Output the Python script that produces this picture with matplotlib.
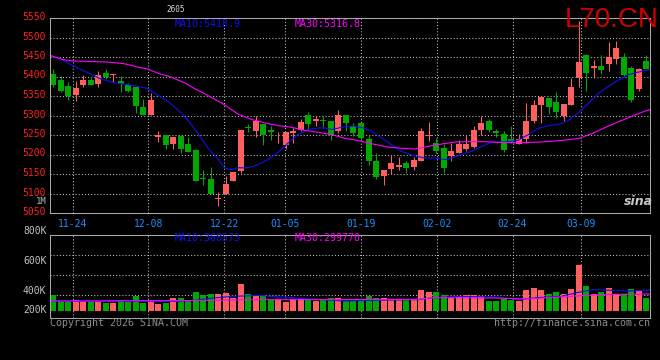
import numpy as np
import matplotlib.pyplot as plt
from matplotlib.transforms import ScaledTranslation

plt.rcParams['font.family'] = 'DejaVu Sans Mono'

# daily candles, oldest first
opens = [5407, 5391, 5376, 5353, 5379, 5390, 5382, 5410, 5404, 5389,
         5377, 5373, 5321, 5302, 5245, 5250, 5228, 5247, 5226, 5211,
         5140, 5138, 5087, 5100, 5131, 5157, 5271, 5260, 5277, 5262,
         5254, 5224, 5256, 5264, 5300, 5287, 5288, 5285, 5260, 5300,
         5274, 5280, 5240, 5183, 5144, 5164, 5169, 5177, 5168, 5183,
         5247, 5230, 5217, 5196, 5204, 5213, 5219, 5262, 5287, 5260,
         5253, 5241, 5226, 5241, 5287, 5328, 5344, 5335, 5298, 5328,
         5395, 5454, 5422, 5428, 5433, 5446, 5451, 5422, 5367, 5441]
highs = [5419, 5402, 5385, 5389, 5404, 5402, 5414, 5419, 5407, 5402,
         5383, 5373, 5343, 5357, 5259, 5250, 5246, 5247, 5245, 5215,
         5161, 5167, 5104, 5146, 5156, 5264, 5279, 5298, 5277, 5272,
         5258, 5257, 5268, 5290, 5310, 5300, 5300, 5285, 5315, 5300,
         5281, 5281, 5251, 5204, 5161, 5200, 5194, 5184, 5194, 5267,
         5283, 5243, 5226, 5230, 5238, 5251, 5274, 5298, 5291, 5266,
         5260, 5272, 5252, 5333, 5339, 5351, 5344, 5361, 5330, 5395,
         5542, 5458, 5443, 5456, 5489, 5492, 5460, 5426, 5422, 5454]
lows = [5374, 5361, 5341, 5336, 5372, 5377, 5374, 5394, 5385, 5359,
        5359, 5307, 5302, 5302, 5232, 5213, 5213, 5205, 5206, 5132,
        5123, 5100, 5069, 5100, 5131, 5153, 5257, 5245, 5224, 5238,
        5230, 5213, 5230, 5260, 5264, 5273, 5268, 5238, 5256, 5260,
        5247, 5238, 5174, 5136, 5123, 5150, 5159, 5153, 5160, 5183,
        5234, 5204, 5153, 5183, 5204, 5208, 5217, 5251, 5257, 5245,
        5207, 5230, 5226, 5230, 5281, 5281, 5304, 5294, 5286, 5327,
        5373, 5364, 5397, 5407, 5415, 5431, 5401, 5335, 5362, 5420]
closes = [5379, 5363, 5351, 5370, 5390, 5377, 5404, 5400, 5407, 5381,
          5363, 5325, 5302, 5339, 5250, 5224, 5246, 5213, 5206, 5132,
          5137, 5100, 5089, 5125, 5156, 5264, 5268, 5287, 5251, 5258,
          5256, 5257, 5260, 5283, 5277, 5290, 5285, 5251, 5300, 5281,
          5256, 5243, 5183, 5142, 5160, 5178, 5172, 5166, 5187, 5260,
          5249, 5208, 5166, 5210, 5226, 5228, 5262, 5280, 5264, 5254,
          5211, 5230, 5241, 5287, 5327, 5347, 5321, 5309, 5330, 5373,
          5437, 5408, 5426, 5416, 5449, 5473, 5405, 5341, 5418, 5420]
volumes = [267, 165, 165, 182, 165, 165, 153, 136, 136, 182,
           153, 250, 136, 182, 114, 136, 226, 226, 192, 318,
           267, 284, 284, 301, 221, 454, 284, 255, 267, 209,
           209, 153, 199, 209, 209, 165, 192, 226, 226, 170,
           170, 209, 250, 226, 226, 182, 182, 182, 182, 352,
           318, 318, 267, 226, 250, 267, 267, 250, 170, 170,
           209, 192, 165, 352, 386, 352, 294, 323, 284, 369,
           777, 420, 284, 318, 386, 294, 284, 369, 335, 221]  # thousands

# moving averages: (candle index, value)
ma10_x = [-0.4, 1.1, 2.9, 4.6, 6.4, 8.2, 10, 11.7, 12.6, 13.5, 15.3, 17.1,
          18.4, 20, 20.6, 22, 22.8, 23.7, 24.6, 26, 27.3, 28.6, 30, 31.3,
          32.6, 34, 35.3, 36.2, 37.1, 38.5, 40, 41, 42.4, 43.7, 45, 46.4,
          48.2, 49.5, 50.9, 52.2, 53.1, 54.4, 55.7, 57.1, 58.4, 60, 61.9,
          63.3, 64.6, 66, 67.3, 68.6, 70, 70.9, 72.7, 74, 75.4, 76.7, 78.1, 79.5]
ma10_y = [5454, 5444, 5425, 5410, 5393, 5384, 5379, 5373, 5369, 5357, 5336, 5306,
          5277, 5234, 5217, 5187, 5166, 5161, 5166, 5166, 5174, 5187, 5206, 5230,
          5251, 5264, 5268, 5268, 5264, 5270, 5273, 5270, 5260, 5243, 5226, 5208,
          5196, 5191, 5191, 5187, 5191, 5200, 5208, 5221, 5232, 5232, 5236,
          5251, 5267, 5274, 5277, 5287, 5308, 5324, 5358, 5375, 5392, 5405, 5412, 5418]
ma30_x = [-0.4, 1.1, 2.5, 7.2, 9.4, 11.3, 12.6, 14, 15.5, 17.6, 18.9, 19.8,
          21.1, 22.6, 24.6, 26.4, 28.2, 30, 31.7, 33.5, 35.3, 37.1, 38.9, 40,
          41, 42.8, 44.6, 46.4, 48.2, 50, 51.8, 53.5, 55.3, 57.1, 59.5, 61.9,
          65, 67.7, 70, 71.7, 73.5, 75.3, 77.1, 78.8, 79.5]
ma30_y = [5454, 5444, 5440, 5437, 5433, 5424, 5419, 5408, 5400, 5383, 5368, 5360,
          5346, 5330, 5304, 5290, 5281, 5274, 5270, 5262, 5257, 5251, 5241, 5238,
          5234, 5226, 5219, 5216, 5214, 5221, 5227, 5232, 5233, 5233, 5231, 5230,
          5232, 5236, 5241, 5253, 5269, 5284, 5298, 5311, 5315]
vma10_x = [-0.4, 16.9, 18.7, 21.8, 24, 27.5, 28.9, 31.5, 34.2, 38.7, 42.2,
           48.5, 50.7, 54.2, 58.7, 62.2, 64.5, 67.6, 70.2, 72, 76.5, 79.5]
vma10_y = [164, 164, 181, 227, 249, 266, 249, 227, 204, 170, 181,
           193, 227, 249, 238, 193, 227, 249, 323, 363, 340, 355]
vma30_x = [-0.4, 17.8, 27.5, 36.4, 48.5, 50.7, 58.7, 63.1, 67.6, 71.2, 74.7, 79.5]
vma30_y = [170, 176, 193, 193, 198, 227, 221, 204, 238, 266, 283, 290]

date_idx = [3, 13, 23, 31, 41, 51, 61, 70]
date_labels = ['11-24', '12-08', '12-22', '01-05', '01-19', '02-02', '02-24', '03-09']
price_ticks = [5050, 5100, 5150, 5200, 5250, 5300, 5350, 5400, 5450, 5500, 5550]
vol_labels = ['800K', '600K', '400K', '200K']

RED = '#ff5f5f'
GREEN = '#00a800'
BLUE = '#1010f0'
MAGENTA = '#ff00ff'
GRID = '#c0c0c0'
FRAME = '#a8a8a8'
DOTS = (0, (1, 2))

o = np.array(opens, float)
c = np.array(closes, float)
x = np.arange(len(c))
colors = np.where(c >= o, RED, GREEN)
# sina spaces its date grid a touch wider than the candles
grid_x = np.array(date_idx) * 1.0106 - 0.46

fig = plt.figure(figsize=(6.6, 3.6), dpi=100, facecolor='black')
ax = fig.add_axes([50 / 660, 1 - 213 / 360, 600 / 660, 195 / 360])
vax = fig.add_axes([50 / 660, 1 - 318 / 360, 600 / 660, 83.5 / 360])

for a in (ax, vax):
    a.set_facecolor('black')
    for s in a.spines.values():
        s.set_color(FRAME)
        s.set_linewidth(0.75)
    a.set_xlim(-0.43, 79.5)
    a.set_xticks(grid_x)
    a.tick_params(length=0)
    a.grid(True, color=GRID, lw=0.75, ls=DOTS)
    a.set_axisbelow(True)

# price panel
ax.vlines(x, lows, highs, colors=colors, lw=0.75)
ax.bar(x, np.maximum(np.abs(c - o), 1.6), bottom=np.minimum(o, c), width=0.8,
       color=colors, linewidth=0)
ax.plot(ma10_x, ma10_y, color=BLUE, lw=0.8)
ax.plot(ma30_x, ma30_y, color=MAGENTA, lw=0.8)
ax.set_ylim(5050, 5550)
ax.set_yticks(price_ticks)
ax.tick_params(axis='y', colors='#ff2020', labelsize=7, pad=3)
# sina prints the price labels a couple of pixels above their grid lines
lift = ScaledTranslation(0, 2 / 100, fig.dpi_scale_trans)
for lab in ax.get_yticklabels():
    lab.set_transform(lab.get_transform() + lift)
ax.set_xticklabels(date_labels)
ax.tick_params(axis='x', colors='#1e8fff', labelsize=7, pad=4)
ax.text(0.208, 0.969, 'MA10:5418.9', color=BLUE, fontsize=7.2,
        transform=ax.transAxes, va='center')
ax.text(0.408, 0.969, 'MA30:5316.8', color=MAGENTA, fontsize=7.2,
        transform=ax.transAxes, va='center')
ax.text(0.98, 0.06, 'sina', color='#c8c8c8', fontsize=9, fontweight='bold',
        fontstyle='italic', family='DejaVu Sans', transform=ax.transAxes,
        ha='center', va='center')

# volume panel
vol = np.array(volumes) * 1000
vax.bar(x, vol, width=0.8, color=colors, linewidth=0)
vax.plot(vma10_x, np.array(vma10_y) * 1000, color=BLUE, lw=0.8)
vax.plot(vma30_x, np.array(vma30_y) * 1000, color=MAGENTA, lw=0.8)
vax.set_ylim(-119000, 1300500)
vax.set_yticks([272000, 612000, 952000])
vax.set_yticklabels([])
vax.set_xticklabels([])
for lab, fy in zip(vol_labels, [1.042, 0.683, 0.323, 0.096]):
    vax.text(-0.006, fy, lab, color='#c0c0c0', fontsize=7, ha='right',
             va='center', transform=vax.transAxes)
vax.text(0.208, 0.958, 'MA10:368573', color=BLUE, fontsize=7.2,
         transform=vax.transAxes, va='center')
vax.text(0.408, 0.958, 'MA30:299770', color=MAGENTA, fontsize=7.2,
         transform=vax.transAxes, va='center')

fig.text(176 / 660, 1 - 10 / 360, '2605', color='#d8d8d8', fontsize=5.5,
         ha='center', va='center')
fig.text(565 / 660, 1 - 27 / 360, 'L70.CN', color='#d00000', fontsize=20,
         family='Liberation Sans', va='baseline')
fig.text(47 / 660, 1 - 201 / 360, '1M', color='#b0b0b0', fontsize=6.5,
         ha='right', va='center')
fig.text(50 / 660, 1 - 323 / 360, 'Copyright 2026 SINA.COM', color='#8c8c8c',
         fontsize=7.2, va='center')
fig.text(650 / 660, 1 - 323 / 360, 'http://finance.sina.com.cn', color='#8c8c8c',
         fontsize=7.2, ha='right', va='center')

fig.savefig('out.png', dpi=100, facecolor='black')
